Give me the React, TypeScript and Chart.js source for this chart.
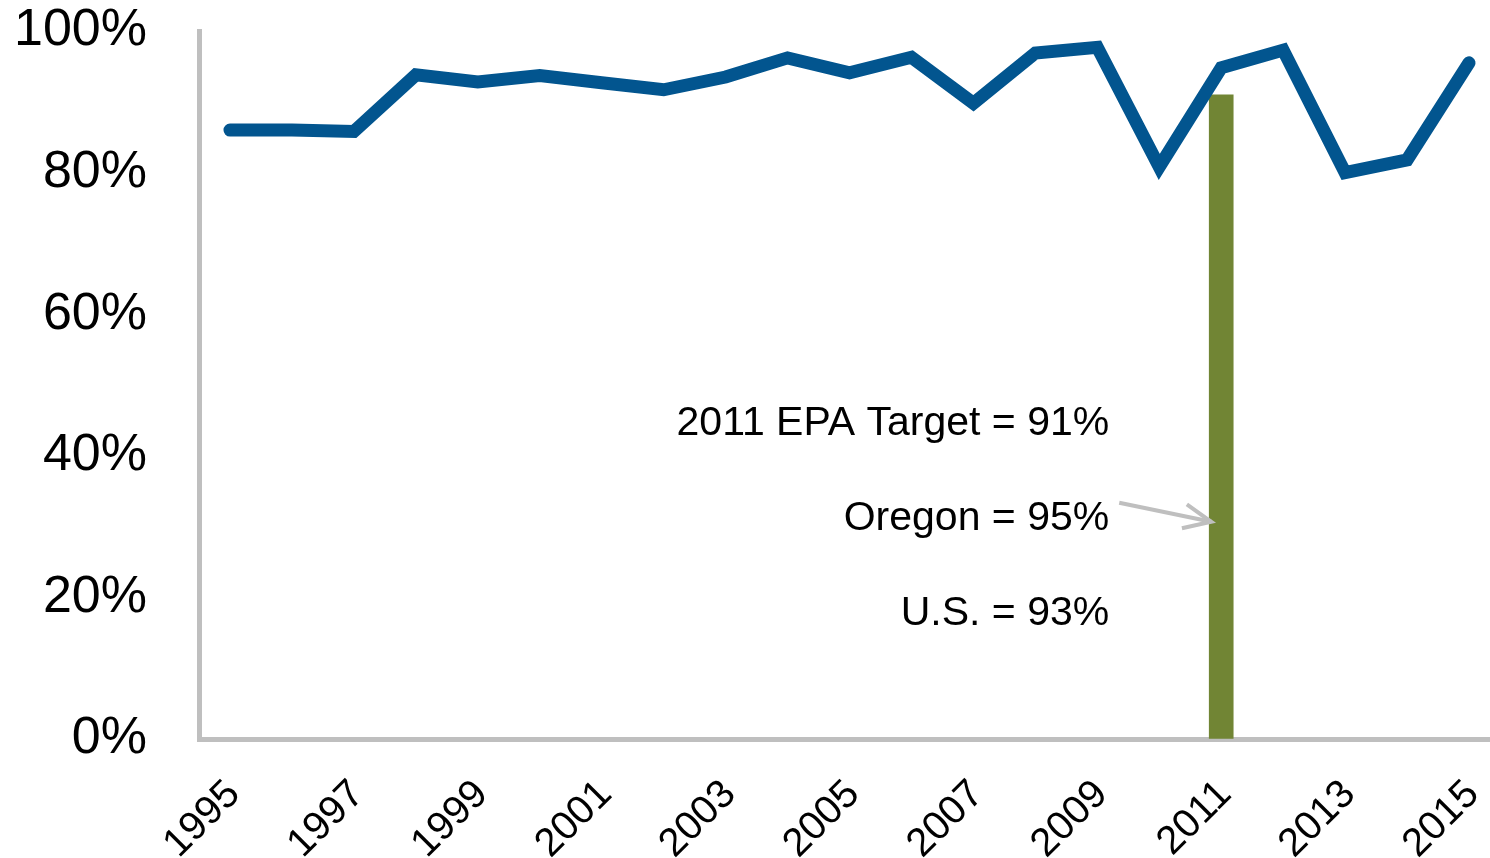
import React, { useEffect, useRef } from "react";
import { Chart, registerables } from "chart.js";

Chart.register(...registerables);

const years = [
  "1995", "1996", "1997", "1998", "1999", "2000", "2001", "2002", "2003", "2004",
  "2005", "2006", "2007", "2008", "2009", "2010", "2011", "2012", "2013", "2014", "2015",
];
const oregonRate = [
  86.0, 86.0, 85.8, 93.8, 92.8, 93.7, 92.7, 91.7, 93.5, 96.2,
  94.1, 96.3, 89.8, 96.9, 97.7, 80.8, 94.8, 97.3, 80.0, 81.8, 95.5,
];
const targetYear = "2011";
const targetValue = 91;
const targetSeries = years.map((y) => (y === targetYear ? targetValue : null));
const yTicks = [0, 20, 40, 60, 80, 100];
const noteLines = ["2011 EPA Target = 91%", "Oregon = 95%", "U.S. = 93%"];

const FONT = '"Liberation Sans", Arial, sans-serif';

const notesPlugin = {
  id: "notes",
  afterDatasetsDraw(chart: any) {
    const { ctx } = chart;
    const x = chart.scales.x;
    const y = chart.scales.y;
    const xi = x.getPixelForValue(years.indexOf(targetYear));
    const tx = xi - 112;
    const ys = [y.getPixelForValue(44.6), y.getPixelForValue(31.1), y.getPixelForValue(17.7)];
    ctx.save();
    ctx.font = `41px ${FONT}`;
    ctx.fillStyle = "#000";
    ctx.textAlign = "right";
    ctx.textBaseline = "middle";
    noteLines.forEach((t, i) => ctx.fillText(t, tx, ys[i]));
    // arrow
    const sx = tx + 10;
    const sy = ys[1] - 16;
    const ex = xi - 10;
    const ey = ys[1] + 3;
    ctx.strokeStyle = "#bfbfbf";
    ctx.lineWidth = 4;
    ctx.lineCap = "butt";
    ctx.beginPath();
    ctx.moveTo(sx, sy);
    ctx.lineTo(ex, ey);
    ctx.stroke();
    const ang = Math.atan2(ey - sy, ex - sx);
    const hl = 30;
    ctx.beginPath();
    ctx.moveTo(ex - hl * Math.cos(ang - 0.42), ey - hl * Math.sin(ang - 0.42));
    ctx.lineTo(ex, ey);
    ctx.lineTo(ex - hl * Math.cos(ang + 0.42), ey - hl * Math.sin(ang + 0.42));
    ctx.stroke();
    ctx.restore();
  },
};

export default function App() {
  const ref = useRef<HTMLCanvasElement>(null);
  useEffect(() => {
    if (!ref.current) return;
    const chart = new Chart(ref.current, {
      type: "bar",
      data: {
        labels: years,
        datasets: [
          {
            type: "line",
            label: "Oregon",
            data: oregonRate,
            borderColor: "#02558f",
            backgroundColor: "#02558f",
            borderWidth: 13,
            borderCapStyle: "round",
            borderJoinStyle: "miter",
            pointRadius: 0,
            tension: 0,
            order: 0,
          } as any,
          {
            type: "bar",
            label: "Target",
            data: targetSeries,
            backgroundColor: "#718534",
            barThickness: 24,
            order: 1,
          } as any,
        ],
      },
      options: {
        responsive: false,
        animation: false,
        layout: { padding: { top: 31, right: 0, left: 0, bottom: 0 } },
        plugins: { legend: { display: false }, tooltip: { enabled: false } },
        scales: {
          x: {
            offset: true,
            grid: { display: true, drawOnChartArea: false, drawTicks: false },
            border: { display: true, color: "#bfbfbf", width: 5 },
            ticks: {
              autoSkip: false,
              minRotation: 45,
              maxRotation: 45,
              padding: 32,
              labelOffset: 4,
              color: "#000",
              font: { family: FONT, size: 40 },
              callback: (_v: any, i: number) => (i % 2 === 0 ? years[i] : ""),
            },
            afterFit: (s: any) => {
              s.height = 119;
              s.paddingLeft = 0;
              s.paddingRight = 0;
            },
          },
          y: {
            min: 0,
            max: 100,
            grid: { display: true, drawOnChartArea: false, drawTicks: false },
            border: { display: true, color: "#bfbfbf", width: 5 },
            afterBuildTicks: (s: any) => {
              s.ticks = yTicks.map((v) => ({ value: v }));
            },
            ticks: {
              padding: 52,
              color: "#000",
              font: { family: FONT, size: 52 },
              callback: (v: any) => `${v}%`,
            },
            afterFit: (s: any) => {
              s.width = 199;
              s.paddingTop = 0;
              s.paddingBottom = 0;
            },
          },
        },
      },
      plugins: [notesPlugin],
    });
    return () => chart.destroy();
  }, []);
  return (
    <div style={{ position: "absolute", left: 0, top: 0, width: 1490, height: 858, overflow: "hidden", background: "#fff" }}>
      <canvas ref={ref} width={1500} height={858} style={{ display: "block" }} />
    </div>
  );
}
